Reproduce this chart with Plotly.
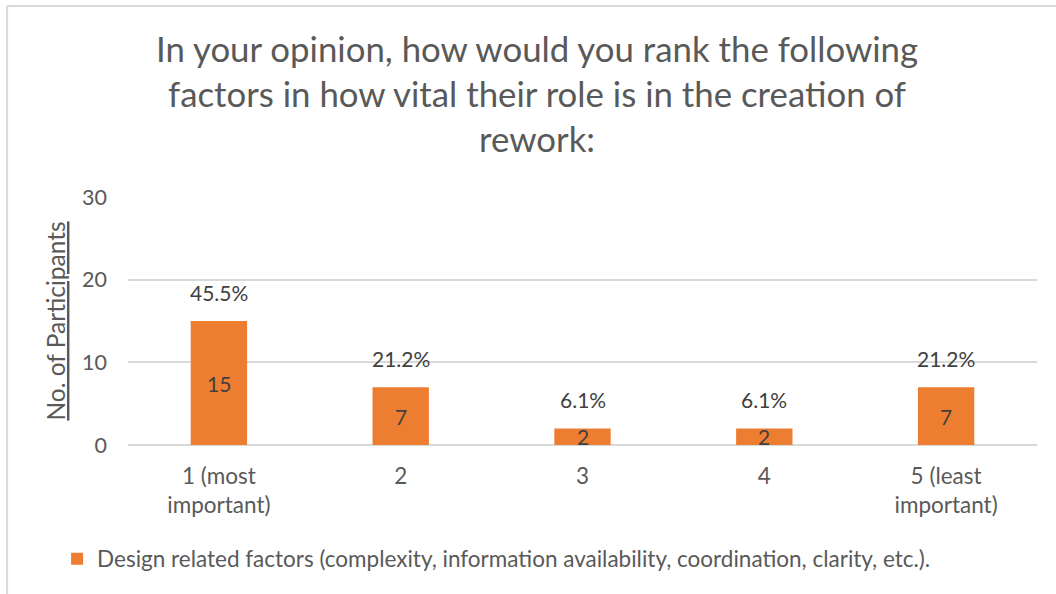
import plotly.graph_objects as go

# Survey responses: ranking of design-related factors in causing rework
categories = ["1 (most<br>important)", "2", "3", "4", "5 (least<br>important)"]
participants = [15, 7, 2, 2, 7]
percent_labels = ["45.5%", "21.2%", "6.1%", "6.1%", "21.2%"]
y_ticks = [0, 10, 20, 30]

series_name = "Design related factors (complexity, information availability, coordination, clarity, etc.)."
title_text = ("In your opinion, how would you rank the following<br>"
              "factors in how vital their role is in the creation of<br>"
              "rework:")

BAR_COLOR = "#ED7D31"
TEXT_COLOR = "#595959"
LABEL_COLOR = "#404040"
GRID_COLOR = "#D9D9D9"
FONT = "Lato, Carlito, Calibri, sans-serif"

fig = go.Figure()
fig.add_trace(go.Bar(
    x=list(range(len(categories))),
    y=participants,
    name=series_name,
    marker=dict(color=BAR_COLOR, line=dict(width=0)),
    width=0.31,
    showlegend=True,
    hoverinfo="skip",
))

annotations = []
# Counts centred inside each bar
for i, val in enumerate(participants):
    annotations.append(dict(
        x=i, y=val / 2, xref="x", yref="y", text=str(val),
        showarrow=False, yanchor="middle",
        font=dict(family=FONT, size=21, color=LABEL_COLOR),
    ))
# Share of participants above each bar
for i, (val, pct) in enumerate(zip(participants, percent_labels)):
    annotations.append(dict(
        x=i, y=val, xref="x", yref="y", text=pct,
        showarrow=False, yanchor="bottom", yshift=14,
        font=dict(family=FONT, size=21, color=LABEL_COLOR),
    ))
# Chart title, centred on the whole chart frame
annotations.append(dict(
    x=0.45, y=1.419, xref="paper", yref="paper", text=title_text,
    showarrow=False, xanchor="center", yanchor="middle", align="center",
    font=dict(family=FONT, size=34.8, color=TEXT_COLOR),
))

fig.update_layout(
    width=1056, height=594,
    margin=dict(l=128, r=19, t=197, b=149),
    paper_bgcolor="white", plot_bgcolor="white",
    font=dict(family=FONT, color=TEXT_COLOR, size=21),
    xaxis=dict(
        range=[-0.5, len(categories) - 0.5],
        tickvals=list(range(len(categories))), ticktext=categories,
        showgrid=False, showline=False, zeroline=False,
        ticks="", ticklabelstandoff=15,
        tickfont=dict(size=22.5, color=TEXT_COLOR),
    ),
    yaxis=dict(
        range=[0, 30], tickvals=y_ticks,
        showgrid=True, gridcolor=GRID_COLOR, gridwidth=1.5,
        zeroline=True, zerolinecolor=GRID_COLOR, zerolinewidth=2,
        showline=False, ticks="", ticklabelstandoff=20,
        tickfont=dict(size=21.5, color=TEXT_COLOR),
        title=dict(text="<u>No. of Participants</u>", standoff=9,
                   font=dict(size=24.5, color=TEXT_COLOR)),
    ),
    legend=dict(
        orientation="h", x=-0.078, xanchor="left", y=-0.46, yanchor="middle",
        font=dict(size=22.5, color=TEXT_COLOR),
        itemwidth=30, bgcolor="rgba(0,0,0,0)",
    ),
    annotations=annotations,
    shapes=[
        # chart frame (top and left edges)
        dict(type="line", xref="paper", yref="paper",
             x0=-0.133, x1=1.05, y0=1.77, y1=1.77,
             line=dict(color=GRID_COLOR, width=2)),
        dict(type="line", xref="paper", yref="paper",
             x0=-0.133, x1=-0.133, y0=1.77, y1=-0.7,
             line=dict(color=GRID_COLOR, width=2)),
    ],
)

fig.write_html("out.html")
